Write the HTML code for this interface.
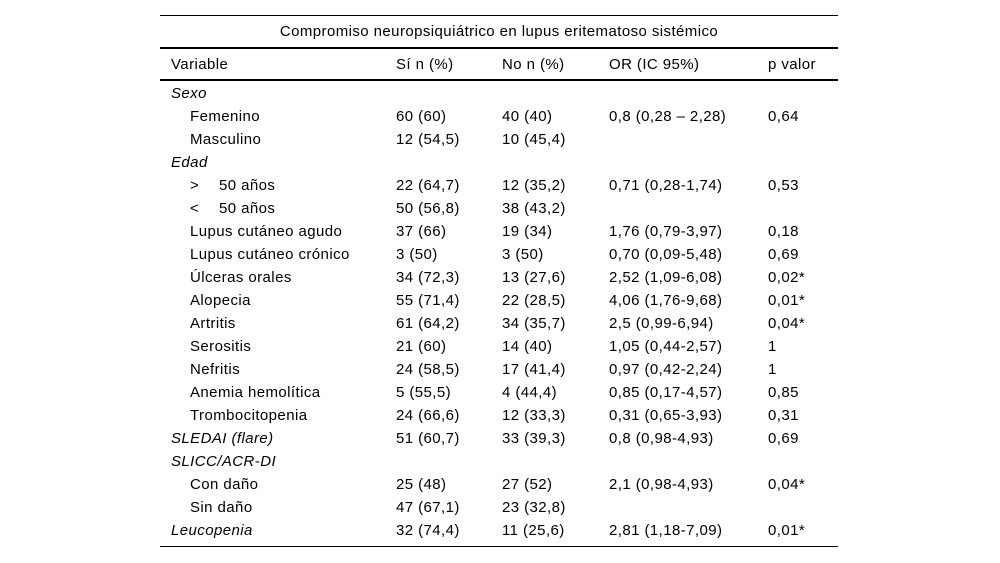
<!DOCTYPE html>
<html><head><meta charset="utf-8">
<style>
body{margin:0;width:1000px;height:563px;background:#fff;position:relative;font-family:"Liberation Sans",Arial,sans-serif;font-size:15px;letter-spacing:0.42px;color:#000;overflow:hidden}
.l{position:absolute;left:160px;width:678px;background:#000}
.r{position:absolute;left:0;width:1000px;height:20px}
.r span{position:absolute;top:0;white-space:nowrap;line-height:20px}
.c0{left:171px}.c0i{left:190px}.c0j{left:219px}.c1{left:396px}.c2{left:502px}.c3{left:609px}.c4{left:768px}
i{font-style:italic}
</style></head><body>
<div class="l" style="top:15px;height:1px"></div>
<div class="r" style="top:22px"><span style="left:160px;width:678px;text-align:center">Compromiso neuropsiquiátrico en lupus eritematoso sistémico</span></div>
<div class="l" style="top:47px;height:2px"></div>
<div class="r" style="top:55px"><span class="c0">Variable</span><span class="c1">Sí n (%)</span><span class="c2">No n (%)</span><span class="c3">OR (IC 95%)</span><span class="c4">p valor</span></div>
<div class="l" style="top:79px;height:2px"></div>

<div class="r" style="top:84px"><span class="c0"><i>Sexo</i></span></div>
<div class="r" style="top:107px"><span class="c0i">Femenino</span><span class="c1">60 (60)</span><span class="c2">40 (40)</span><span class="c3">0,8 (0,28 – 2,28)</span><span class="c4">0,64</span></div>
<div class="r" style="top:130px"><span class="c0i">Masculino</span><span class="c1">12 (54,5)</span><span class="c2">10 (45,4)</span></div>
<div class="r" style="top:153px"><span class="c0"><i>Edad</i></span></div>
<div class="r" style="top:176px"><span class="c0i">&gt;</span><span class="c0j">50 años</span><span class="c1">22 (64,7)</span><span class="c2">12 (35,2)</span><span class="c3">0,71 (0,28-1,74)</span><span class="c4">0,53</span></div>
<div class="r" style="top:199px"><span class="c0i">&lt;</span><span class="c0j">50 años</span><span class="c1">50 (56,8)</span><span class="c2">38 (43,2)</span></div>
<div class="r" style="top:222px"><span class="c0i">Lupus cutáneo agudo</span><span class="c1">37 (66)</span><span class="c2">19 (34)</span><span class="c3">1,76 (0,79-3,97)</span><span class="c4">0,18</span></div>
<div class="r" style="top:245px"><span class="c0i">Lupus cutáneo crónico</span><span class="c1">3 (50)</span><span class="c2">3 (50)</span><span class="c3">0,70 (0,09-5,48)</span><span class="c4">0,69</span></div>
<div class="r" style="top:268px"><span class="c0i">Úlceras orales</span><span class="c1">34 (72,3)</span><span class="c2">13 (27,6)</span><span class="c3">2,52 (1,09-6,08)</span><span class="c4">0,02*</span></div>
<div class="r" style="top:291px"><span class="c0i">Alopecia</span><span class="c1">55 (71,4)</span><span class="c2">22 (28,5)</span><span class="c3">4,06 (1,76-9,68)</span><span class="c4">0,01*</span></div>
<div class="r" style="top:314px"><span class="c0i">Artritis</span><span class="c1">61 (64,2)</span><span class="c2">34 (35,7)</span><span class="c3">2,5 (0,99-6,94)</span><span class="c4">0,04*</span></div>
<div class="r" style="top:337px"><span class="c0i">Serositis</span><span class="c1">21 (60)</span><span class="c2">14 (40)</span><span class="c3">1,05 (0,44-2,57)</span><span class="c4">1</span></div>
<div class="r" style="top:360px"><span class="c0i">Nefritis</span><span class="c1">24 (58,5)</span><span class="c2">17 (41,4)</span><span class="c3">0,97 (0,42-2,24)</span><span class="c4">1</span></div>
<div class="r" style="top:383px"><span class="c0i">Anemia hemolítica</span><span class="c1">5 (55,5)</span><span class="c2">4 (44,4)</span><span class="c3">0,85 (0,17-4,57)</span><span class="c4">0,85</span></div>
<div class="r" style="top:406px"><span class="c0i">Trombocitopenia</span><span class="c1">24 (66,6)</span><span class="c2">12 (33,3)</span><span class="c3">0,31 (0,65-3,93)</span><span class="c4">0,31</span></div>
<div class="r" style="top:429px"><span class="c0"><i>SLEDAI (flare)</i></span><span class="c1">51 (60,7)</span><span class="c2">33 (39,3)</span><span class="c3">0,8 (0,98-4,93)</span><span class="c4">0,69</span></div>
<div class="r" style="top:452px"><span class="c0"><i>SLICC/ACR-DI</i></span></div>
<div class="r" style="top:475px"><span class="c0i">Con daño</span><span class="c1">25 (48)</span><span class="c2">27 (52)</span><span class="c3">2,1 (0,98-4,93)</span><span class="c4">0,04*</span></div>
<div class="r" style="top:498px"><span class="c0i">Sin daño</span><span class="c1">47 (67,1)</span><span class="c2">23 (32,8)</span></div>
<div class="r" style="top:521px"><span class="c0"><i>Leucopenia</i></span><span class="c1">32 (74,4)</span><span class="c2">11 (25,6)</span><span class="c3">2,81 (1,18-7,09)</span><span class="c4">0,01*</span></div>
<div class="l" style="top:546px;height:1px"></div>
</body></html>
